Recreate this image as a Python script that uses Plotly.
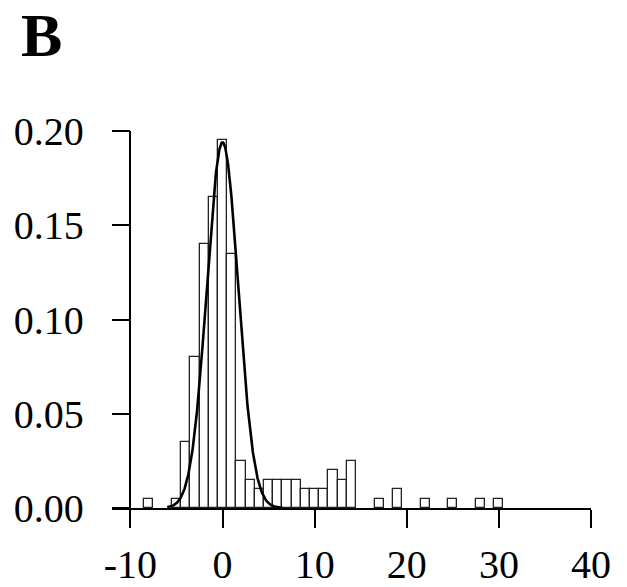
import numpy as np
import plotly.graph_objects as go

# Histogram bins (centers, width 1) and relative frequencies
bin_centers = [-8, -5, -4, -3, -2, -1, 0, 1, 2, 3, 4, 5, 6, 7, 8, 9, 10, 11, 12, 13, 14,
               17, 19, 22, 25, 28, 30]
frequencies = [0.005, 0.005, 0.035, 0.080, 0.140, 0.165, 0.195, 0.135, 0.025, 0.015, 0.010,
               0.015, 0.015, 0.015, 0.015, 0.010, 0.010, 0.010, 0.020, 0.015, 0.025,
               0.005, 0.010, 0.005, 0.005, 0.005, 0.005]

# Fitted normal curve
fit_mean = 0.0
fit_sd = 1.7
fit_peak = 0.194
fit_xmin, fit_xmax = -6.0, 6.5

x_ticks = [-10, 0, 10, 20, 30, 40]
y_ticks = [0.00, 0.05, 0.10, 0.15, 0.20]
y_ticklabels = ["0.00", "0.05", "0.10", "0.15", "0.20"]

x_range = [-12, 40]
y_range = [0, 0.2]

curve_x = np.linspace(fit_xmin, fit_xmax, 300)
curve_y = fit_peak * np.exp(-0.5 * ((curve_x - fit_mean) / fit_sd) ** 2)

FONT = "Liberation Serif"
TICK_SIZE = 40

fig = go.Figure()
fig.add_trace(go.Bar(
    x=bin_centers, y=frequencies, width=1,
    marker=dict(color="white", line=dict(color="#222222", width=1.3)),
    showlegend=False,
))
fig.add_trace(go.Scatter(
    x=curve_x, y=curve_y, mode="lines",
    line=dict(color="black", width=2.6),
    showlegend=False,
))

fig.update_layout(
    width=627, height=587,
    margin=dict(l=112, r=36, t=131, b=79, autoexpand=False),
    paper_bgcolor="white", plot_bgcolor="white",
    font=dict(family=FONT, color="black", size=TICK_SIZE),
    bargap=0,
    xaxis=dict(
        range=x_range, tickvals=x_ticks, ticktext=[str(v) for v in x_ticks],
        automargin=False,
        showgrid=False, zeroline=False, showline=True, linecolor="black", linewidth=1.5,
        ticks="outside", ticklen=18, tickwidth=1.5, tickcolor="black",
        tickfont=dict(family=FONT, size=TICK_SIZE, color="black"),
        ticklabelstandoff=2,
    ),
    yaxis=dict(
        range=y_range, tickvals=y_ticks, ticktext=y_ticklabels,
        automargin=False,
        anchor="free", position=(-10 - x_range[0]) / (x_range[1] - x_range[0]),
        showgrid=False, zeroline=False, showline=True, linecolor="black", linewidth=1.5,
        ticks="outside", ticklen=18, tickwidth=1.5, tickcolor="black",
        tickfont=dict(family=FONT, size=TICK_SIZE, color="black"),
        ticklabelstandoff=20,
    ),
    annotations=[dict(
        text="<b>B</b>", xref="paper", yref="paper",
        x=(20 - 112) / 479, y=(508 - 0) / 377,
        xanchor="left", yanchor="top", borderpad=0,
        showarrow=False, font=dict(family=FONT, size=62, color="black"),
    )],
)

fig.write_html("out.html")
